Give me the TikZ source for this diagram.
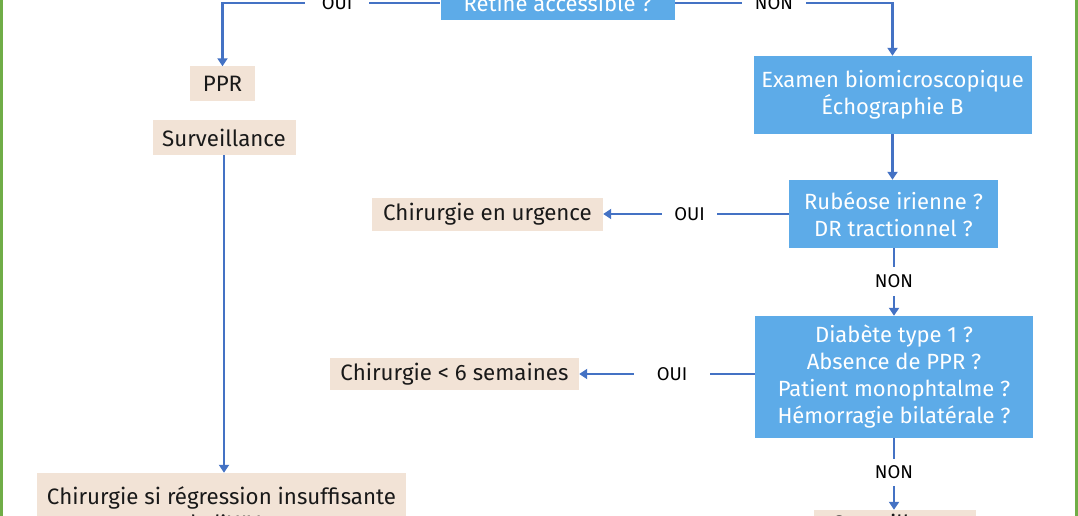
\documentclass[tikz,border=0pt]{standalone}
\usepackage{fontspec}
\setmainfont{Fira Sans}
\usetikzlibrary{arrows.meta}

\definecolor{qblue}{RGB}{93,171,232}
\definecolor{actbeige}{RGB}{242,227,214}
\definecolor{flowblue}{RGB}{68,114,196}
\definecolor{frame}{RGB}{112,173,71}

\begin{document}
\begin{tikzpicture}[
        x=1pt, y=-1pt,
        question/.style={rectangle, fill=qblue, text=white, align=center, inner sep=0pt,
                         font=\fontsize{22}{27}\selectfont},
        action/.style={rectangle, fill=actbeige, text=black!90, align=center, inner sep=0pt,
                       font=\fontsize{22.3}{27}\selectfont},
        answer/.style={inner sep=0pt, text=black, font=\fontsize{18.5}{20}\selectfont},
        flow/.style={draw=flowblue, line width=2.7pt},
        arr/.style={flow, -{Triangle[length=8pt,width=10pt]}}
        ]
        \useasboundingbox (0,0) rectangle (1078,516);
        \clip (0,0) rectangle (1078,516);
        % green frame
        \draw[frame, line width=3pt] (1.5,-20) rectangle (1076.5,560);
        % questions
        \node[question, minimum width=234pt, minimum height=34pt] (retine)  at (557.5,3)   {Rétine accessible ?};
        \node[question, minimum width=278pt, minimum height=78pt] (examen)  at (892.5,95)  {Examen biomicroscopique\\Échographie B};
        \node[question, minimum width=209pt, minimum height=68pt] (rubeose) at (893.5,214) {Rubéose irienne ?\\DR tractionnel ?};
        \node[question, minimum width=278pt, minimum height=122pt] (diabete) at (894,377)  {Diabète type 1 ?\\Absence de PPR ?\\Patient monophtalme ?\\Hémorragie bilatérale ?};
        % actions
        \node[action, minimum width=65pt,  minimum height=35pt] (ppr)      at (222.5,84)   {PPR};
        \node[action, minimum width=143pt, minimum height=35pt] (survA)    at (224,137.5)  {Surveillance};
        \node[action, minimum width=369pt, minimum height=72pt] (chirreg)  at (221.5,509)  {Chirurgie si régression insuffisante\\de l'HIV};
        \node[action, minimum width=231pt, minimum height=33pt] (urgence)  at (487.5,214)  {Chirurgie en urgence};
        \node[action, minimum width=249pt, minimum height=32pt] (sixsem)   at (454.5,374)  {Chirurgie < 6 semaines};
        \node[action, minimum width=162pt, minimum height=26pt] (survB)    at (895,523)    {Surveillance};
        % answers
        \node[answer, minimum width=64pt] (ouiA) at (337,3)     {OUI};
        \node[answer, minimum width=64pt] (nonA) at (774,3)     {NON};
        \node[answer, minimum width=55pt] (ouiB) at (689.5,214) {OUI};
        \node[answer, minimum width=76pt] (ouiC) at (672,374)   {OUI};
        \node[answer, minimum height=29pt] (nonB) at (894,281.5) {NON};
        \node[answer, minimum height=27pt] (nonC) at (894,472.5) {NON};
        % connectors
        \draw[flow] (ouiA.east) -- (ouiA.east -| retine.west);
        \draw[arr] (ouiA.west) -| (ppr.north);
        \draw[flow] (nonA.west) -- (nonA.west -| retine.east);
        \draw[arr] (nonA.east) -| (examen.north);
        \draw[arr] (survA.south) -- (survA.south |- chirreg.north);
        \draw[arr] (examen.south) -- (examen.south |- rubeose.north);
        \draw[flow] (ouiB.east) -- (ouiB.east -| rubeose.west);
        \draw[arr] (ouiB.west) -- (urgence.east);
        \draw[flow] (nonB.north) -- (nonB.north |- rubeose.south);
        \draw[arr] (nonB.south) -- (nonB.south |- diabete.north);
        \draw[flow] (ouiC.east) -- (ouiC.east -| diabete.west);
        \draw[arr] (ouiC.west) -- (ouiC.west -| sixsem.east);
        \draw[flow] (nonC.north) -- (nonC.north |- diabete.south);
        \draw[arr] (nonC.south) -- (nonC.south |- survB.north);
\end{tikzpicture}
\end{document}
